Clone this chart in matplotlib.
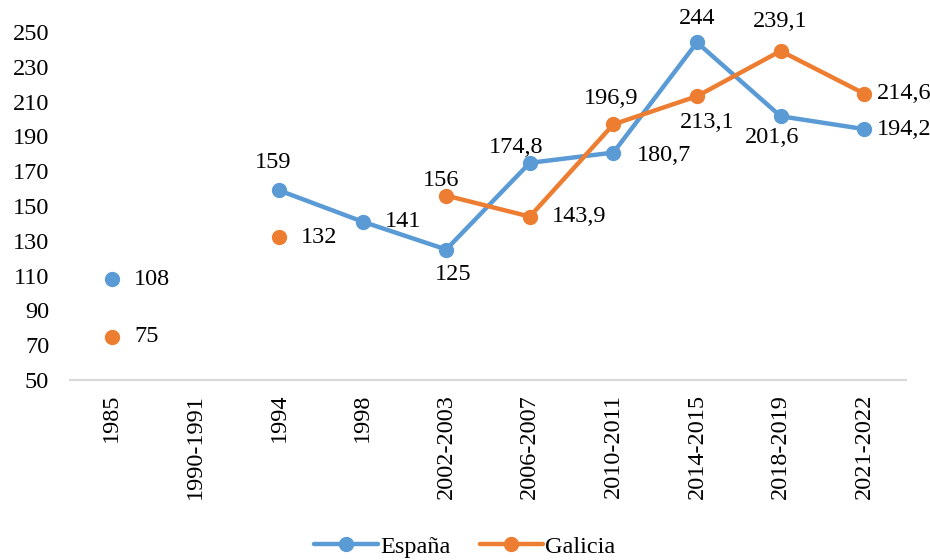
import numpy as np
import matplotlib
matplotlib.use("Agg")
import matplotlib.pyplot as plt

categories = ["1985", "1990-1991", "1994", "1998", "2002-2003", "2006-2007",
              "2010-2011", "2014-2015", "2018-2019", "2021-2022"]
espana = [108, np.nan, 159, 141, 125, 174.8, 180.7, 244, 201.6, 194.2]
galicia = [75, np.nan, 132, np.nan, 156, 143.9, 196.9, 213.1, 239.1, 214.6]

# label offsets in points (dx, dy, ha)
esp_off = [(16, 0, "left"), None, (-4, 20, "center"), (16, 0, "left"), (5, -18, "center"),
           (-10, 11, "center"), (17, -2, "left"), (0, 17, "center"), (-6, -15, "center"),
           (9, 0, "left")]
gal_off = [(16, 0, "left"), None, (16, 0, "left"), None, (-4, 11, "center"),
           (16, 0, "left"), (-2, 19, "center"), (7, -19, "center"), (0, 21, "center"),
           (9, 0, "left")]

FS = 17.5
plt.rcParams["font.family"] = ["Liberation Serif", "DejaVu Serif"]
plt.rcParams["font.size"] = FS

fig = plt.figure(figsize=(9.3, 5.6), dpi=100)
ax = fig.add_axes([70 / 930, 180 / 560, 836 / 930, 348 / 560])

blue = "#5B9BD5"
orange = "#ED7D31"
x = np.arange(len(categories))

ax.plot(x, espana, color=blue, lw=3.2, marker="o", ms=10, label="España",
        solid_capstyle="round", zorder=3)
ax.plot(x, galicia, color=orange, lw=3.2, marker="o", ms=10, label="Galicia",
        solid_capstyle="round", zorder=3)

def fmt(v):
    s = f"{v:.1f}".replace(".", ",")
    if s.endswith(",0"):
        s = s[:-2]
    return s

for vals, offs in ((espana, esp_off), (galicia, gal_off)):
    for i, (v, o) in enumerate(zip(vals, offs)):
        if o is None or np.isnan(v):
            continue
        dx, dy, ha = o
        ax.annotate(fmt(v), (x[i], v), xytext=(dx, dy), textcoords="offset points",
                    ha=ha, va="center", fontsize=FS, color="#000000", zorder=4)

ax.set_xlim(-0.5, len(categories) - 0.5)
ax.set_ylim(50, 250)
ax.set_yticks(np.arange(50, 251, 20))
ax.set_xticks(x)
ax.set_xticklabels(categories, rotation=90)
ax.tick_params(axis="both", length=0, labelsize=FS)
ax.tick_params(axis="x", pad=10)
ax.tick_params(axis="y", pad=15)
for s in ("top", "right", "left"):
    ax.spines[s].set_visible(False)
ax.spines["bottom"].set_color("#D9D9D9")
ax.spines["bottom"].set_linewidth(1.5)

fig.legend(loc="lower center", bbox_to_anchor=(0.5, -0.035), ncol=2, frameon=False,
           fontsize=FS, handlelength=2.6, handletextpad=0.1, columnspacing=1.2)

fig.savefig("out.png", dpi=100)
